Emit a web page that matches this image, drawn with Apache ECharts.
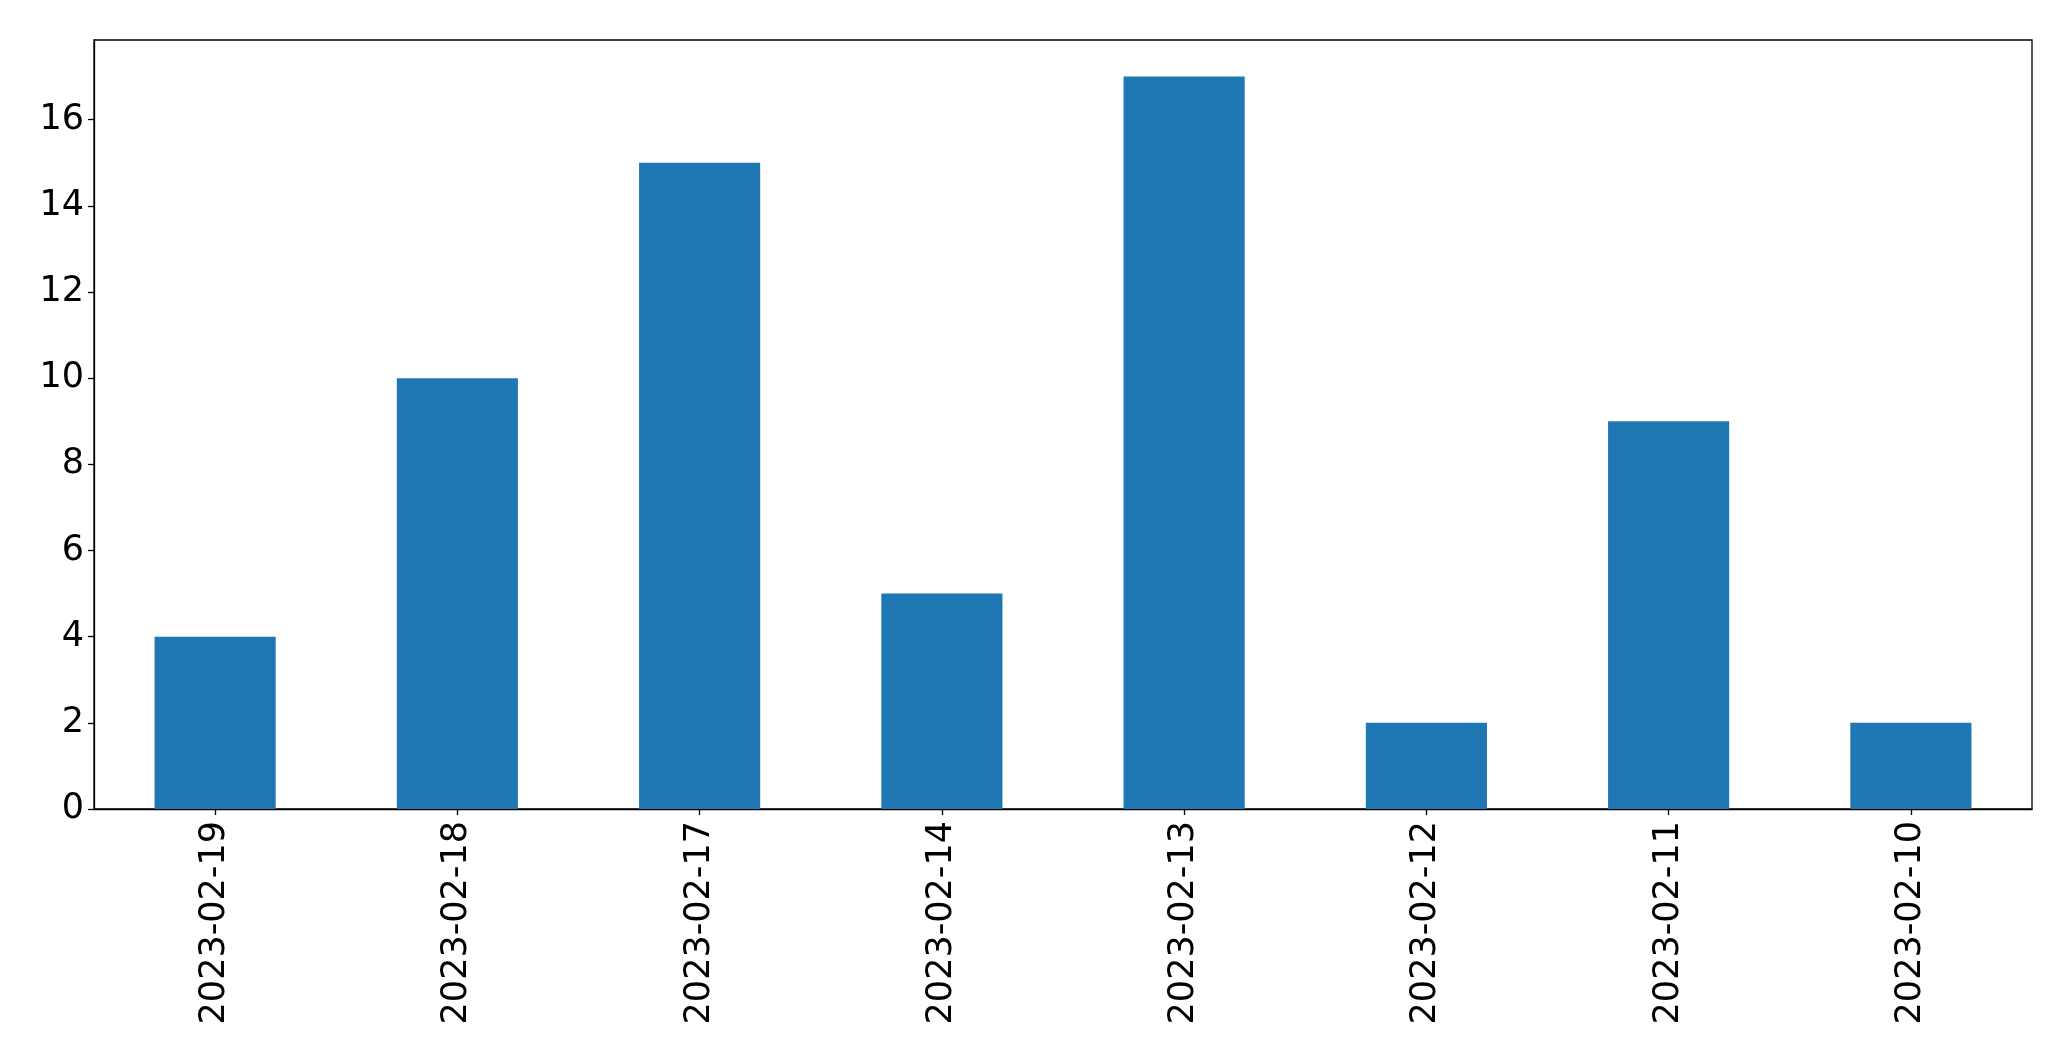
<!DOCTYPE html>
<html>
<head>
<meta charset="utf-8">
<script src="https://cdn.jsdelivr.net/npm/echarts@6/dist/echarts.min.js"></script>
<style>html,body{margin:0;padding:0;background:#fff;}#c{width:2071px;height:1061px;}</style>
</head>
<body>
<div id="c"></div>
<script>
const categories = ["2023-02-19","2023-02-18","2023-02-17","2023-02-14","2023-02-13","2023-02-12","2023-02-11","2023-02-10"];
const values = [4, 10, 15, 5, 17, 2, 9, 2];
const yTicks = [0, 2, 4, 6, 8, 10, 12, 14, 16];

const chart = echarts.init(document.getElementById('c'), null, {renderer: 'canvas'});
chart.setOption({
  animation: false,
  backgroundColor: '#fff',
  grid: {left: 94, right: 39, top: 40, bottom: 252, show: true, borderColor: '#000', borderWidth: 1.3, backgroundColor: 'transparent'},
  xAxis: {
    type: 'category',
    data: categories,
    axisLine: {show: true, lineStyle: {color: '#000', width: 1.3}},
    axisTick: {show: true, alignWithLabel: true, length: 6, lineStyle: {color: '#000', width: 1.3}},
    axisLabel: {rotate: 90, fontSize: 35, fontFamily: 'DejaVu Sans', color: '#000', margin: 12, interval: 0},
    splitLine: {show: false}
  },
  yAxis: {
    type: 'value',
    min: 0,
    max: 17.85,
    interval: 2,
    axisLine: {show: true, lineStyle: {color: '#000', width: 1.3}},
    axisTick: {show: true, length: 6, customValues: yTicks, lineStyle: {color: '#000', width: 1.3}},
    axisLabel: {fontSize: 35, fontFamily: 'DejaVu Sans', color: '#000', margin: 10, customValues: yTicks},
    splitLine: {show: false}
  },
  series: [{
    type: 'bar',
    data: values,
    barWidth: '50%',
    itemStyle: {color: '#1f77b4'}
  }]
});
</script>
</body>
</html>
